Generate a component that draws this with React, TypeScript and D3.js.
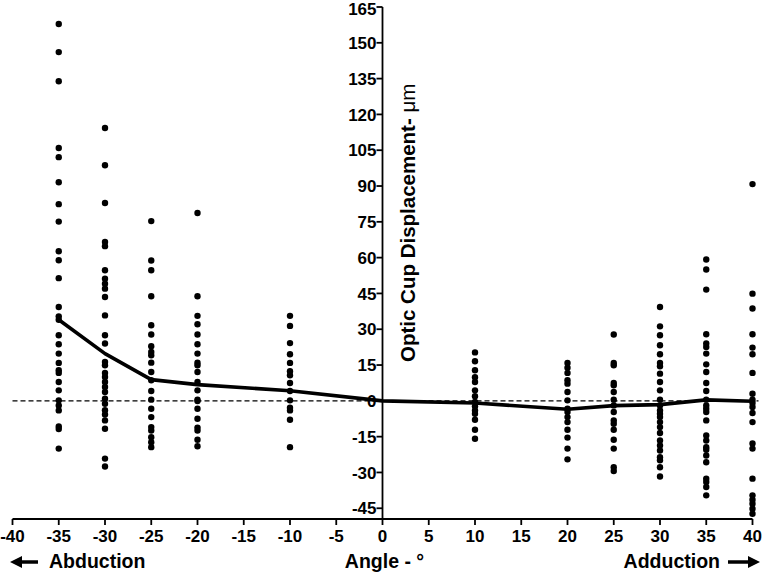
import React from "react";
import * as d3 from "d3";

const angles = [-35, -30, -25, -20, -10, 10, 20, 25, 30, 35, 40];
const colM35 = [157.9, 146.1, 133.9, 105.9, 102.1, 91.6, 82.4, 75.1, 62.7, 58.9, 51.4, 39.3, 35.4, 34, 27.5, 23.7, 19.8, 15.9, 12.8, 11.7, 7.9, 4.4, 0.2, -1.9, -4, -10.7, -11.8, -20];
const colM30 = [114.3, 98.7, 82.9, 66.6, 64.8, 54.7, 51.2, 49.1, 47.0, 43.5, 35.8, 27.5, 24.0, 16.3, 14.9, 11.7, 10.0, 7.9, 5.8, 3.7, 0.9, -1.2, -3.9, -5.7, -8.2, -11.7, -24.2, -27.5];
const colM25 = [75.3, 58.8, 54.7, 43.8, 31.7, 27.8, 22.9, 20.5, 19.1, 16.0, 12.1, 8.6, 4.1, 0.5, -3.3, -6.8, -11.0, -12.4, -15.2, -17.3, -19.4];
const colM20 = [78.7, 43.8, 35.6, 32.1, 27.8, 23.7, 19.8, 16.0, 14.9, 12.1, 7.9, 4.4, 0.5, -0.1, -3.3, -7.5, -11.2, -12.4, -16.3, -19.0];
const colM10 = [35.6, 31.4, 24.2, 19.5, 15.9, 12.4, 10.7, 7.5, 4.1, 0.2, -2.9, -4.0, -7.9, -19.4];
const col10 = [20.3, 16.6, 12.8, 9.9, 7.9, 4.4, 1.9, -0.5, -2.3, -4.0, -5.4, -7.9, -12.1, -15.9];
const col20 = [15.9, 13.9, 11.7, 8.6, 7.2, 3.7, 0.2, -3.3, -4.7, -6.8, -8.9, -12.1, -15.4, -20.0, -24.5];
const col25 = [27.8, 15.9, 14.9, 7.5, 6.5, 3.7, 0.5, -1.9, -4.7, -8.2, -9.6, -12.1, -16.3, -20.0, -27.8, -29.4];
const col30 = [39.3, 31.2, 27.5, 23.3, 19.5, 15.9, 14.5, 11.4, 7.9, 4.4, 0.5, -1.9, -4.0, -5.4, -6.8, -8.9, -11.0, -13.5, -16.6, -18.7, -20.8, -23.6, -24.9, -27.8, -31.7];
const col35 = [59.2, 55.0, 46.6, 27.9, 24.0, 22.6, 19.8, 15.3, 12.1, 7.5, 4.1, 0.5, -1.9, -3.3, -4.7, -8.2, -14.5, -16.6, -19.4, -20.5, -22.9, -25.7, -32.6, -34.0, -36.1, -39.6];
const col40 = [90.8, 44.9, 38.7, 27.9, 22.3, 19.5, 11.7, 3.0, 0.5, -0.9, -2.6, -5.1, -8.9, -17.9, -20.0, -32.6, -39.6, -41.4, -43.1, -45.2, -47.3];
const columns = [colM35, colM30, colM25, colM20, colM10, col10, col20, col25, col30, col35, col40];

const meanAngles = [-35, -30, -25, -20, -10, 0, 10, 20, 25, 30, 35, 40];
const meanValues = [34, 19.8, 8.9, 6.8, 4.2, 0, -0.9, -3.5, -2, -1.6, 0.4, -0.2];

const xTicks = [-40, -35, -30, -25, -20, -15, -10, -5, 0, 5, 10, 15, 20, 25, 30, 35, 40];
const yTicks = [-45, -30, -15, 0, 15, 30, 45, 60, 75, 90, 105, 120, 135, 150, 165];

const xTitle = "Angle - °";
const yTitleMain = "Optic Cup Displacement- ";
const yTitleUnit = "μm";
const leftLabel = "Abduction";
const rightLabel = "Adduction";

const W = 763;
const H = 573;
const FONT = "'Liberation Sans', Arial, sans-serif";

export default function App() {
  const x = d3.scaleLinear().domain([-40, 40]).range([12.5, 752.5]);
  const y = d3.scaleLinear().domain([-49.5, 165]).range([519, 7]);
  const x0 = x(0);
  const yBottom = y(-49.5);

  const line = d3
    .line<number>()
    .x((_, i) => x(meanAngles[i]))
    .y((d) => y(d));

  const points: { a: number; v: number }[] = [];
  columns.forEach((col, i) => col.forEach((v) => points.push({ a: angles[i], v })));

  const arrowY = 562;

  return (
    <svg
      width={W}
      height={H}
      style={{ position: "absolute", left: 0, top: 0, background: "#fff", display: "block" }}
      fontFamily={FONT}
    >
      <rect x={0} y={0} width={W} height={H} fill="#fff" />
      {/* dashed zero line */}
      <line x1={x(-40)} x2={x(40) + 6} y1={y(0)} y2={y(0)} stroke="#000" strokeWidth={1.1} strokeDasharray="5,3" />

      {/* points */}
      {points.map((p, i) => (
        <circle key={i} cx={x(p.a)} cy={y(p.v)} r={3.2} fill="#000" />
      ))}

      {/* mean line */}
      <path d={line(meanValues) || ""} fill="none" stroke="#000" strokeWidth={3.6} strokeLinejoin="round" />

      {/* x axis */}
      <line x1={x(-40)} x2={x(40)} y1={yBottom} y2={yBottom} stroke="#000" strokeWidth={1.8} />
      {xTicks.map((t) => (
        <g key={t}>
          <line x1={x(t)} x2={x(t)} y1={yBottom} y2={yBottom + 6} stroke="#000" strokeWidth={1.8} />
          <text x={x(t)} y={542} textAnchor="middle" fontSize={17} fontWeight="bold" fill="#000">
            {t}
          </text>
        </g>
      ))}

      {/* y axis */}
      <line x1={x0} x2={x0} y1={y(165)} y2={yBottom} stroke="#000" strokeWidth={1.8} />
      {yTicks.map((t) => (
        <g key={t}>
          <line x1={x0 - 6} x2={x0} y1={y(t)} y2={y(t)} stroke="#000" strokeWidth={1.8} />
          <text
            x={x0 - 6}
            y={y(t)}
            dy={t === 165 ? "0.48em" : "0.36em"}
            textAnchor="end"
            fontSize={17}
            fontWeight="bold"
            fill="#000"
          >
            {t}
          </text>
        </g>
      ))}

      {/* y title */}
      <text transform={`translate(415,362) rotate(-90)`} fontSize={20.5} fontWeight="bold" fill="#000">
        {yTitleMain}
        <tspan fontWeight="normal">{yTitleUnit}</tspan>
      </text>

      {/* x titles */}
      <text x={x0 + 2} y={568} textAnchor="middle" fontSize={19.5} fontWeight="bold" fill="#000">
        {xTitle}
      </text>
      <path d={`M38,${arrowY} L20,${arrowY}`} stroke="#000" strokeWidth={3.5} />
      <path d={`M10,${arrowY} L22,${arrowY - 6} L22,${arrowY + 6} Z`} fill="#000" />
      <text x={49} y={568} fontSize={19.5} fontWeight="bold" fill="#000">
        {leftLabel}
      </text>
      <text x={720} y={568} textAnchor="end" fontSize={19.5} fontWeight="bold" fill="#000">
        {rightLabel}
      </text>
      <path d={`M728,${arrowY} L748,${arrowY}`} stroke="#000" strokeWidth={3.5} />
      <path d={`M760,${arrowY} L748,${arrowY - 6} L748,${arrowY + 6} Z`} fill="#000" />
    </svg>
  );
}
